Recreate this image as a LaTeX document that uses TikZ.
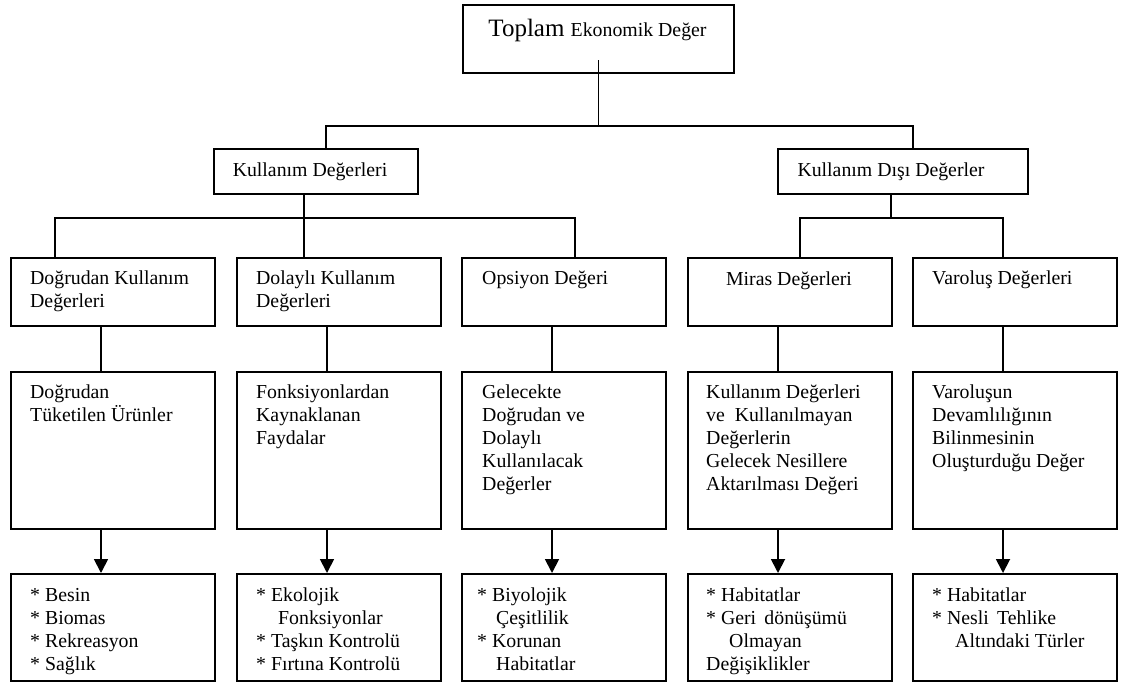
\documentclass[tikz,border=0pt]{standalone}
\usepackage{fontspec}
\setmainfont{Liberation Serif}
\usetikzlibrary{arrows.meta,calc}
\begin{document}
\begin{tikzpicture}[x=1pt,y=-1pt,
  box/.style={draw, line width=2pt, inner sep=0pt, minimum width=204pt, anchor=north west},
  rowa/.style={box, minimum height=68pt},
  rowb/.style={box, minimum height=157pt},
  rowc/.style={box, minimum height=107pt},
  txt/.style={inner sep=0pt, anchor=north west, align=left, font=\fontsize{19.8}{23}\selectfont},
  ctxt/.style={inner sep=0pt, anchor=base, font=\fontsize{19.8}{23}\selectfont},
  conn/.style={line width=1.8pt},
  arr/.style={conn, -{Triangle[width=14pt,length=14pt]}}]
\useasboundingbox (0,0) rectangle (1123,681);

% top
\node[draw, line width=2pt, inner sep=0pt, minimum width=271pt, minimum height=68pt, anchor=north west] (top) at (462,4) {};
\node[inner sep=0pt, anchor=base] (ttop) at (597.5,36) {\fontsize{25}{28}\selectfont Toplam \fontsize{19.8}{23}\selectfont Ekonomik Değer};

% level 2
\node[draw, line width=2pt, inner sep=0pt, minimum width=204pt, minimum height=45pt, anchor=north west] (kd) at (213,148) {};
\node[ctxt] (tkd) at (310,176) {Kullanım Değerleri};
\node[draw, line width=2pt, inner sep=0pt, minimum width=250pt, minimum height=45pt, anchor=north west] (kdd) at (777,148) {};
\node[ctxt] (tkdd) at (891,176) {Kullanım Dışı Değerler};

% row 1
\node[rowa] (a1) at (10,257) {};
\node[rowa] (a2) at (236,257) {};
\node[rowa] (a3) at (461,257) {};
\node[rowa] (a4) at (687,257) {};
\node[rowa] (a5) at (912,257) {};
% row 2
\node[rowb] (b1) at (10,371) {};
\node[rowb] (b2) at (236,371) {};
\node[rowb] (b3) at (461,371) {};
\node[rowb] (b4) at (687,371) {};
\node[rowb] (b5) at (912,371) {};
% row 3
\node[rowc] (c1) at (10,573) {};
\node[rowc] (c2) at (236,573) {};
\node[rowc] (c3) at (461,573) {};
\node[rowc] (c4) at (687,573) {};
\node[rowc] (c5) at (912,573) {};

% texts row 1
\node[txt] (ta1) at ($(a1.north west)+(20,14)$) {Doğrudan Kullanım\\Değerleri};
\node[txt] (ta2) at ($(a2.north west)+(20,14)$) {Dolaylı Kullanım\\Değerleri};
\node[txt] (ta3) at ($(a3.north west)+(21,14)$) {Opsiyon Değeri};
\node[ctxt] (ta4) at ($(a4.north west)+(102,28)$) {Miras Değerleri};
\node[txt] (ta5) at ($(a5.north west)+(20,14)$) {Varoluş Değerleri};
% texts row 2
\node[txt] (tb1) at ($(b1.north west)+(20,14)$) {Doğrudan\\Tüketilen Ürünler};
\node[txt] (tb2) at ($(b2.north west)+(20,14)$) {Fonksiyonlardan\\Kaynaklanan\\Faydalar};
\node[txt] (tb3) at ($(b3.north west)+(21,14)$) {Gelecekte\\Doğrudan ve\\Dolaylı\\Kullanılacak\\Değerler};
\node[txt] (tb4) at ($(b4.north west)+(19,14)$) {Kullanım Değerleri\\ve\ \ Kullanılmayan\\Değerlerin\\Gelecek Nesillere\\Aktarılması Değeri};
\node[txt] (tb5) at ($(b5.north west)+(20,14)$) {Varoluşun\\Devamlılığının\\Bilinmesinin\\Oluşturduğu Değer};
% texts row 3
\node[txt] (tc1) at ($(c1.north west)+(20,15)$) {* Besin\\{}* Biomas\\{}* Rekreasyon\\{}* Sağlık};
\node[txt] (tc2) at ($(c2.north west)+(20,15)$) {* Ekolojik\\\hspace*{22pt}Fonksiyonlar\\{}* Taşkın Kontrolü\\{}* Fırtına Kontrolü};
\node[txt] (tc3) at ($(c3.north west)+(16,15)$) {* Biyolojik\\\hspace*{19pt}Çeşitlilik\\{}* Korunan\\\hspace*{19pt}Habitatlar};
\node[txt] (tc4) at ($(c4.north west)+(19,15)$) {* Habitatlar\\{}* Geri\ \,dönüşümü\\\hspace*{23pt}Olmayan\\Değişiklikler};
\node[txt] (tc5) at ($(c5.north west)+(20,15)$) {* Habitatlar\\{}* Nesli\ \,Tehlike\\\hspace*{23pt}Altındaki Türler};

% connectors top
\draw[conn] ([yshift=14pt]top.south) -- (top.south |- 0,126);
\draw[conn] ($(kd.north west)+(113,0)$) |- (top.south |- 0,126) -| ($(kdd.north west)+(136,0)$);
% from kd
\draw[conn] ($(kd.south west)+(91,0)$) -- ($(a2.north west)+(68,0)$);
\draw[conn] ($(a1.north west)+(45,0)$) |- ($(kd.south west)+(91,23)$) -| ($(a3.north west)+(114,0)$);
% from kdd
\draw[conn] ($(kdd.south west)+(114,0)$) -- ($(kdd.south west)+(114,23)$);
\draw[conn] ($(a4.north west)+(113,0)$) |- ($(kdd.south west)+(114,23)$) -| ($(a5.north west)+(91,0)$);

% vertical connectors and arrows
\foreach \i in {1,...,5}{
  \draw[conn] ($(a\i.south west)+(91,0)$) -- ($(b\i.north west)+(91,0)$);
  \draw[arr] ($(b\i.south west)+(91,0)$) -- ($(c\i.north west)+(91,0)$);
}
\end{tikzpicture}
\end{document}
